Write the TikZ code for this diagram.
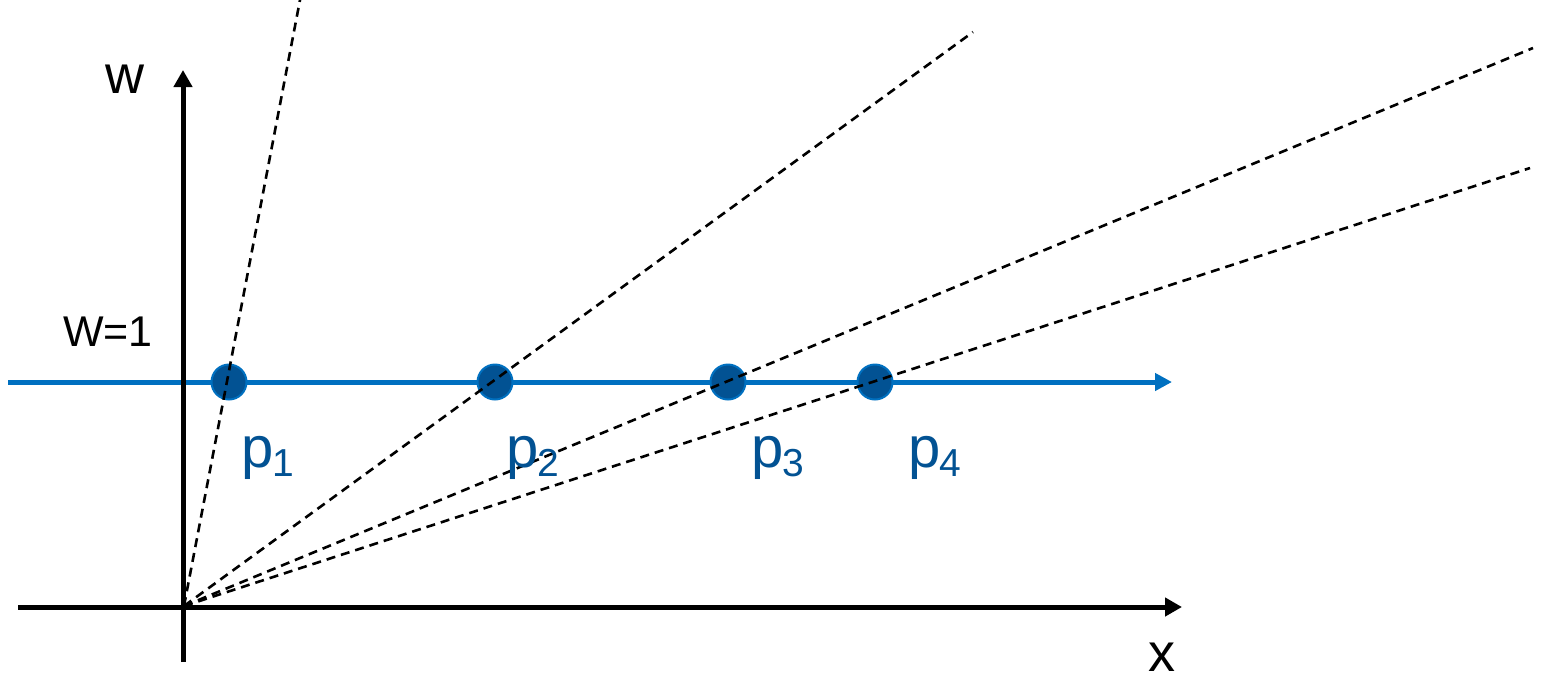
\documentclass[tikz,border=0pt]{standalone}
\usepackage{fontspec}
\setmainfont{Liberation Sans}
\usetikzlibrary{arrows.meta}
\definecolor{lineblue}{RGB}{0,112,192}
\definecolor{dotblue}{RGB}{2,82,147}
\begin{document}
\begin{tikzpicture}[x=1pt,y=-1pt,
  axis/.style={line width=5pt,black,-{Triangle[length=17pt,width=18pt]}},
  wline/.style={line width=5pt,lineblue,-{Triangle[length=17pt,width=17pt]}},
  ray/.style={line width=2.6pt,black,dash pattern=on 9pt off 6pt},
  dot/.style={circle,fill=dotblue,draw=lineblue,line width=2pt,minimum size=35pt,inner sep=0pt},
  bigtxt/.style={font=\fontsize{54}{54}\selectfont,inner sep=0pt,anchor=base},
  wtxt/.style={font=\fontsize{43}{43}\selectfont,inner sep=0pt,anchor=base},
  plabel/.style={text=dotblue,inner sep=0pt,anchor=base west}
]
\useasboundingbox (0,0) rectangle (1546,681);
% coordinates
\coordinate (O) at (184,606);
\coordinate (xs) at (18,607);
\coordinate (xe) at (1182,607);
\coordinate (ws) at (183,662);
\coordinate (we) at (183,70);
\coordinate (bs) at (8,382);
\coordinate (be) at (1172,382);
\coordinate (r1) at (300,0);
\coordinate (r2) at (973,32);
\coordinate (r3) at (1533,48);
\coordinate (r4) at (1530,168);
% blue line
\draw[wline] (bs) -- (be);
% dots
\node[dot] (p1) at (229,382) {};
\node[dot] (p2) at (495,382) {};
\node[dot] (p3) at (728,382) {};
\node[dot] (p4) at (875,382) {};
% axes
\draw[axis] (xs) -- (xe);
\draw[axis] (ws) -- (we);
% rays
\draw[ray] (O) -- (r1);
\draw[ray] (O) -- (r2);
\draw[ray] (O) -- (r3);
\draw[ray] (O) -- (r4);
% labels
\node[bigtxt] (lw) at (125,93) {w};
\node[wtxt] (lW) at (108,346) {W=1};
\node[bigtxt] (lx) at (1162,671) {x};
\newcommand{\plab}[1]{\fontsize{58}{58}\selectfont p\kern-1pt\raisebox{-9pt}{\fontsize{39}{39}\selectfont #1}}
\node[plabel] (t1) at (241,467) {\plab{1}};
\node[plabel] (t2) at (506,467) {\plab{2}};
\node[plabel] (t3) at (751,467) {\plab{3}};
\node[plabel] (t4) at (908,467) {\plab{4}};
\end{tikzpicture}
\end{document}
